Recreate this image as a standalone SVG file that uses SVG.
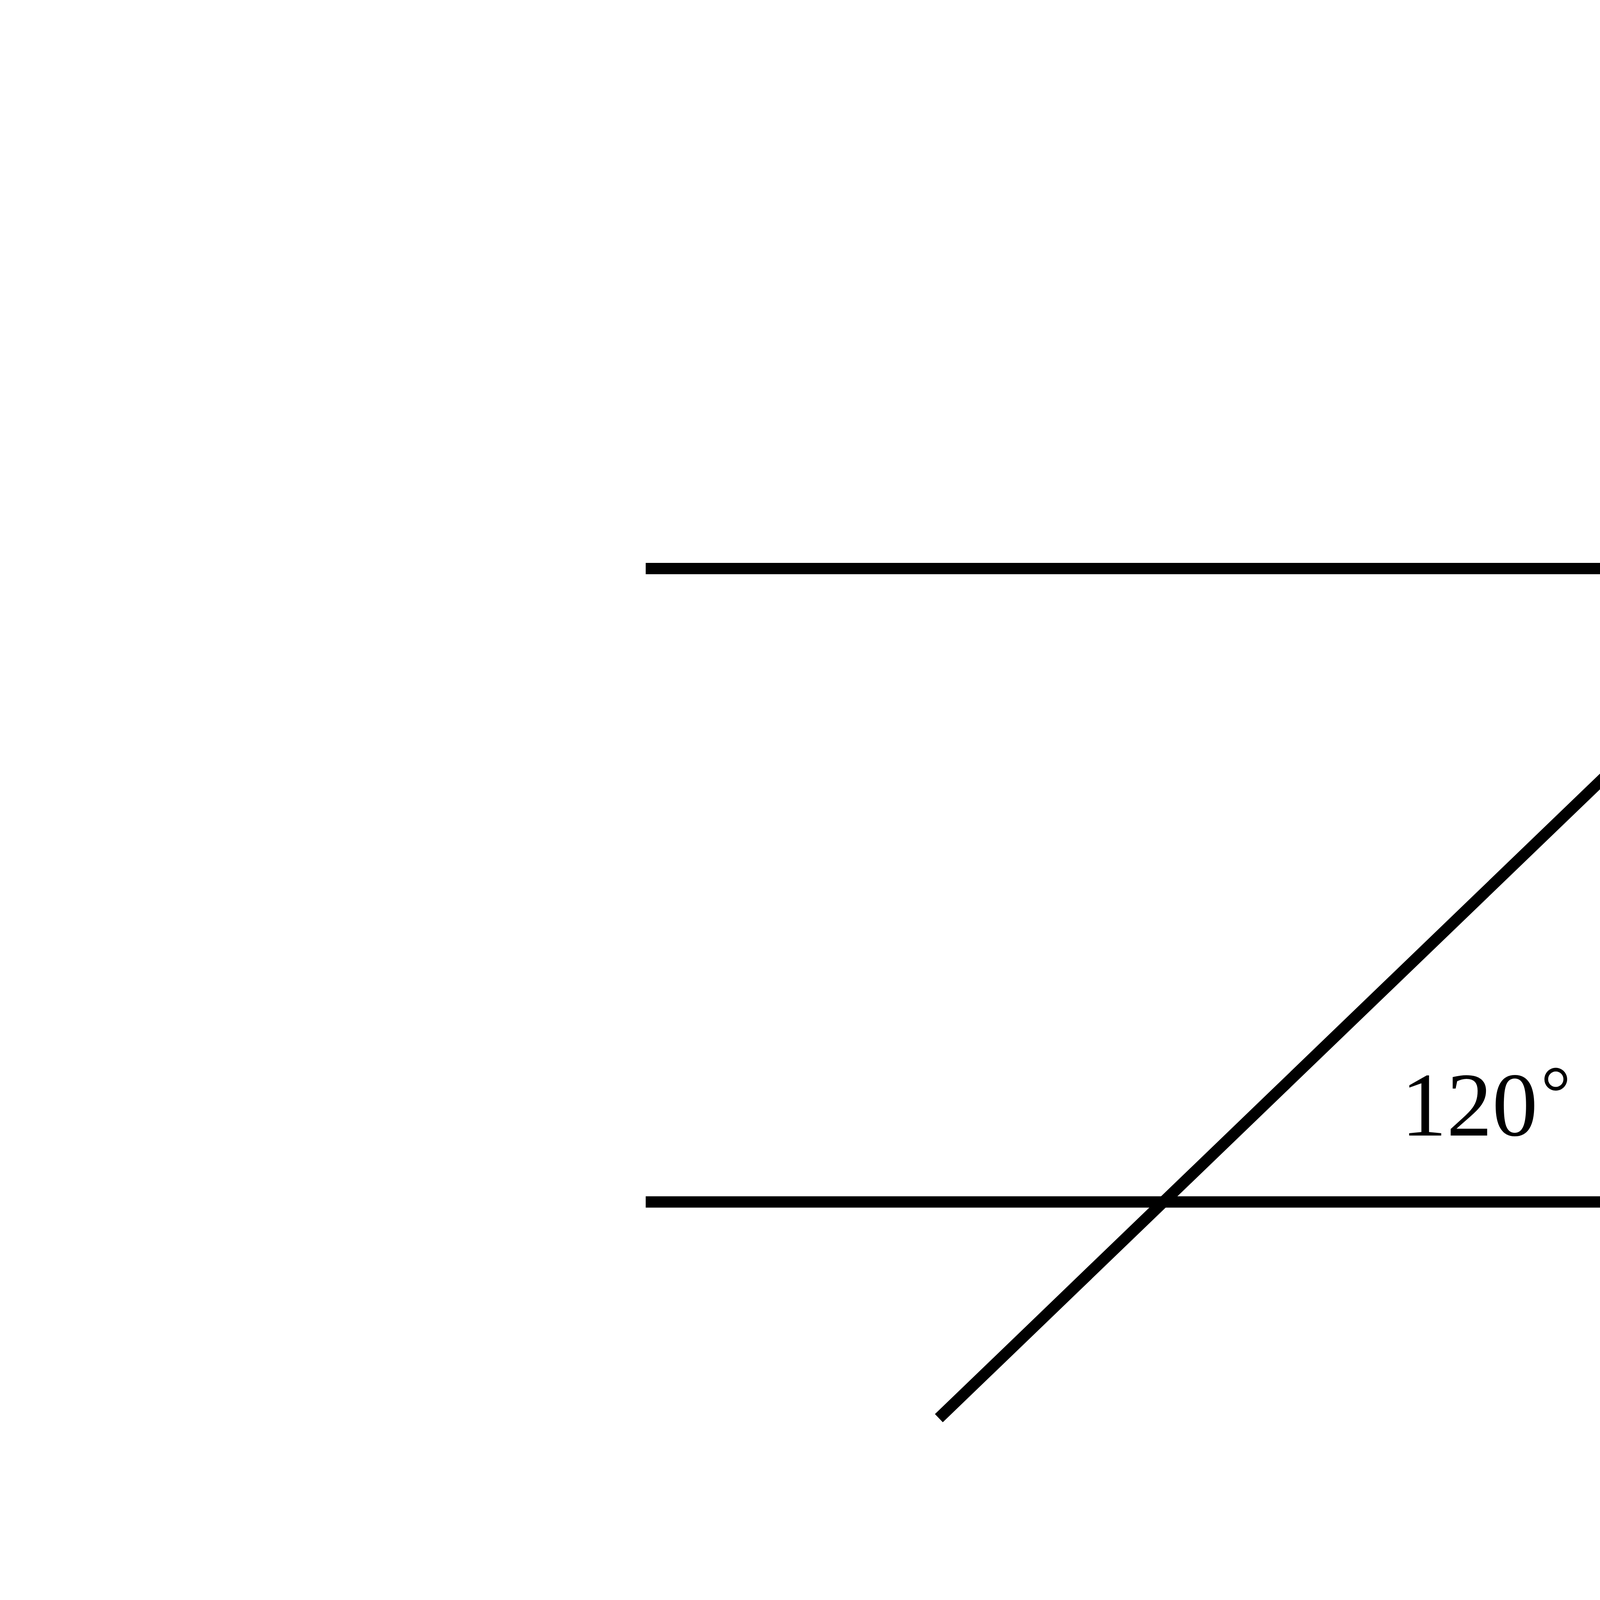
<svg xmlns="http://www.w3.org/2000/svg" width="8000" height="4500" viewBox="0 0 8000 4500">
<style>
.ln{stroke:#000;stroke-width:29;stroke-linecap:butt;fill:none}
.lb{font-family:"Liberation Serif","Times New Roman",serif;fill:#000}
</style>
<rect width="8000" height="4500" fill="#fff"/>
<g id="connectors">
<line id="line-p" class="ln" x1="1653" y1="1455.5" x2="6051" y2="1455.5"/>
<line id="line-q" class="ln" x1="1653" y1="3077" x2="6051" y2="3077"/>
<line id="line-c" class="ln" x1="2403.5" y1="3630.5" x2="5246.5" y2="892.5"/>
</g>
<g id="label-c"><text class="lb" x="5359" y="880" font-size="333">c</text></g>
<g id="label-p"><text class="lb" x="6215" y="1531" font-size="333">p</text></g>
<g id="label-q"><text class="lb" x="6222" y="3134" font-size="333">q</text></g>
<g id="label-x"><text class="lb" x="4484" y="1303" font-size="210">x</text></g>
<g id="label-120"><text class="lb" x="3587" y="2907" font-size="233">120<tspan font-size="192" dx="8" dy="-45">°</tspan></text></g>
</svg>
